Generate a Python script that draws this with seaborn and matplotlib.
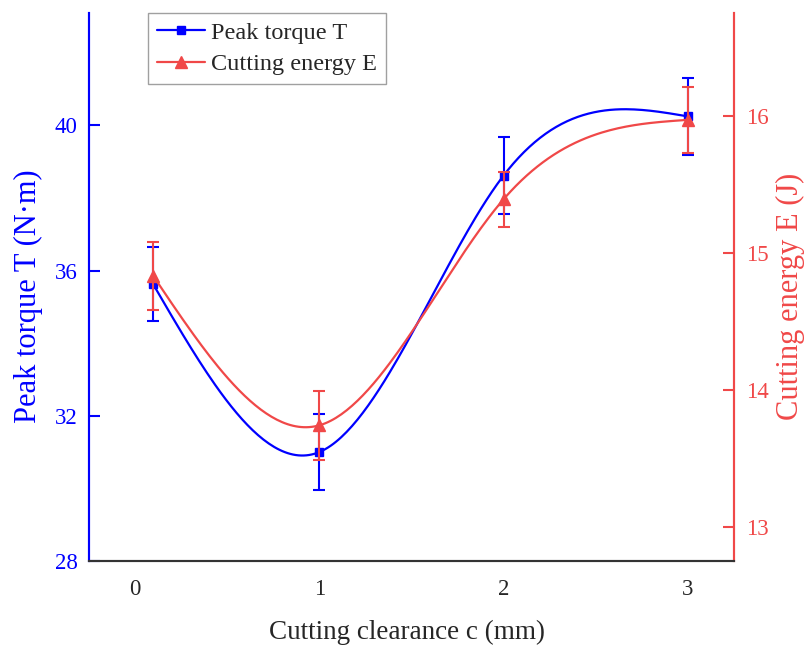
import numpy as np
import pandas as pd
import matplotlib
matplotlib.use("Agg")
import matplotlib.pyplot as plt
import seaborn as sns
from matplotlib.lines import Line2D

# data
clearance = [0.1, 1, 2, 3]
torque = [35.62, 31.0, 38.62, 40.25]
torque_err = [1.02, 1.05, 1.06, 1.05]
energy = [14.83, 13.74, 15.39, 15.97]
energy_err = [0.25, 0.25, 0.20, 0.24]

BLUE = "#0000FF"
RED = "#F04848"


def natural_spline(x, y, n=200):
    # smooth connecting line (same look as the original "spline" connector)
    x = np.asarray(x, float)
    y = np.asarray(y, float)
    k = len(x)
    h = np.diff(x)
    A = np.zeros((k, k))
    b = np.zeros(k)
    A[0, 0] = A[-1, -1] = 1
    for i in range(1, k - 1):
        A[i, i - 1] = h[i - 1]
        A[i, i] = 2 * (h[i - 1] + h[i])
        A[i, i + 1] = h[i]
        b[i] = 6 * ((y[i + 1] - y[i]) / h[i] - (y[i] - y[i - 1]) / h[i - 1])
    M = np.linalg.solve(A, b)
    xs = np.linspace(x[0], x[-1], n)
    idx = np.clip(np.searchsorted(x, xs) - 1, 0, k - 2)
    x0, x1 = x[idx], x[idx + 1]
    hh = x1 - x0
    ys = (M[idx] * (x1 - xs) ** 3 / (6 * hh) + M[idx + 1] * (xs - x0) ** 3 / (6 * hh)
          + (y[idx] / hh - M[idx] * hh / 6) * (x1 - xs)
          + (y[idx + 1] / hh - M[idx + 1] * hh / 6) * (xs - x0))
    return xs, ys


sns.set_style("white")
plt.rcParams["font.family"] = ["Liberation Serif", "DejaVu Serif"]

fig = plt.figure(figsize=(8.07, 6.46), dpi=100)
ax = fig.add_axes([0.110, 0.1316, 0.7995, 0.8483])
ax2 = ax.twinx()

xs, ys = natural_spline(clearance, torque)
sns.lineplot(x=xs, y=ys, ax=ax, color=BLUE, lw=1.6)
ax.errorbar(clearance, torque, yerr=torque_err, fmt="s", color=BLUE, ms=6,
            capsize=4, elinewidth=1.5, capthick=1.5)

xs, ys = natural_spline(clearance, energy)
sns.lineplot(x=xs, y=ys, ax=ax2, color=RED, lw=1.6)
ax2.errorbar(clearance, energy, yerr=energy_err, fmt="^", color=RED, ms=8,
             capsize=4, elinewidth=1.5, capthick=1.5)

ax.set_xlim(-0.25, 3.25)
ax.set_ylim(28, 43.1)
ax2.set_ylim(12.75, 16.75)
ax.set_xticks([0, 1, 2, 3])
ax.set_yticks([28, 32, 36, 40])
ax2.set_yticks([13, 14, 15, 16])

for a in (ax, ax2):
    a.spines["top"].set_visible(False)
    a.spines["left"].set_color(BLUE)
    a.spines["right"].set_color(RED)
    a.spines["bottom"].set_color("#333333")
    for s in ("left", "right", "bottom"):
        a.spines[s].set_linewidth(1.5)

ax.tick_params(axis="y", direction="in", length=8, width=1.5, colors=BLUE, labelsize=16.5, pad=8)
ax.tick_params(axis="x", direction="in", length=8, width=1.5, color="#333333", labelsize=16.5, pad=13)
ax2.tick_params(axis="y", direction="in", length=8, width=1.5, colors=RED, labelsize=16.5, pad=9)

ax.set_xlabel("Cutting clearance c (mm)", fontsize=19.5, va="center")
ax.xaxis.set_label_coords(0.493, -0.13)
ax.set_ylabel("Peak torque T (N·m)", fontsize=22, color=BLUE, va="center")
ax.yaxis.set_label_coords(-0.093, 0.4836)
ax2.set_ylabel("Cutting energy E (J)", fontsize=22, color=RED, va="center")
ax2.yaxis.set_label_coords(1.087, 0.4836)

handles = [
    Line2D([], [], color=BLUE, marker="s", ms=6, lw=1.6),
    Line2D([], [], color=RED, marker="^", ms=8, lw=1.6),
]
leg = ax.legend(handles, ["Peak torque T", "Cutting energy E"], loc="upper left",
                bbox_to_anchor=(0.092, 1.0), fontsize=17.5, frameon=True, fancybox=False,
                edgecolor="#888888", handlelength=2.0, borderpad=0.35, labelspacing=0.4,
                handletextpad=0.25, borderaxespad=0)
leg.get_frame().set_linewidth(1.0)

fig.savefig("out.png", dpi=100)
